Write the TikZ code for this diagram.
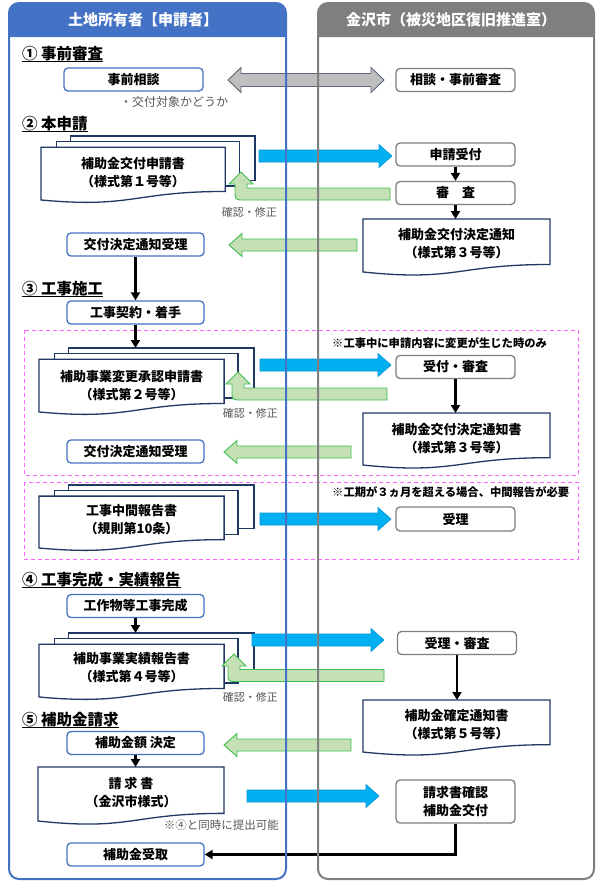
\documentclass[tikz,border=0pt]{standalone}
\usepackage{fontspec}
\setmainfont{Noto Sans CJK JP}
\usetikzlibrary{arrows.meta,calc}
\definecolor{lblue}{HTML}{4472C4}
\definecolor{rgray}{HTML}{7F7F7F}
\definecolor{navy}{HTML}{203864}
\definecolor{cyanfill}{HTML}{00B0F0}
\definecolor{cyandraw}{HTML}{0098D8}
\definecolor{gfill}{HTML}{C5E0B4}
\definecolor{gdraw}{HTML}{3CBE50}
\definecolor{grfill}{HTML}{BFBFBF}
\definecolor{grdraw}{HTML}{5B6778}
\definecolor{pinkc}{HTML}{FF66FF}
\definecolor{notegray}{HTML}{595959}
\tikzset{
 boxtxt/.style={font=\fontsize{13}{18}\selectfont\bfseries},
 lbox/.style={boxtxt, draw=lblue, line width=1.3pt, rounded corners=4pt, fill=white, minimum height=23pt, minimum width=137pt, inner sep=0pt},
 rbox/.style={boxtxt, draw=rgray, line width=1.3pt, rounded corners=4pt, fill=white, minimum width=119pt, minimum height=23pt, inner sep=0pt},
 doctxt/.style={boxtxt, align=center, inner sep=0pt},
 docln/.style={draw=navy, line width=1.3pt, fill=white},
 headtxt/.style={font=\fontsize{15.5}{18}\selectfont\bfseries, anchor=base west, inner sep=0pt},
 smalltxt/.style={font=\fontsize{11}{14}\selectfont, text=notegray, inner sep=0pt},
 notetxt/.style={font=\fontsize{11.3}{14}\selectfont\bfseries, inner sep=0pt, anchor=west},
 blk/.style={line width=2.3pt, -{Triangle[width=9pt,length=8pt]}},
 bluearr/.style={fill=cyanfill, draw=cyandraw, line width=0.6pt},
 grnarr/.style={fill=gfill, draw=gdraw, line width=0.9pt},
 grayarr/.style={fill=grfill, draw=grdraw, line width=0.9pt},
 pinkbox/.style={draw=pinkc, line width=0.9pt, dash pattern=on 4pt off 3pt},
 ulinestyle/.style={line width=0.9pt},
}
% right-pointing block arrow: style, tail x, tip x, y
\newcommand\arrR[4]{\filldraw[#1] (#2,#4-6) -- (#3-13,#4-6) -- (#3-13,#4-11.5) -- (#3,#4) -- (#3-13,#4+11.5) -- (#3-13,#4+6) -- (#2,#4+6) -- cycle;}
% left-pointing block arrow: style, tip x, tail x, y
\newcommand\arrL[4]{\filldraw[#1] (#3,#4-6) -- (#2+13,#4-6) -- (#2+13,#4-11.5) -- (#2,#4) -- (#2+13,#4+11.5) -- (#2+13,#4+6) -- (#3,#4+6) -- cycle;}
% bent arrow: style, right x, body y, shaft x, tip y
\newcommand\arrLup[5]{\filldraw[#1] (#2,#3+6) -- (#4+3,#3+6) .. controls (#4-6,#3+6) .. (#4-6,#3-3) -- (#4-6,#5+12) -- (#4-12,#5+12) -- (#4,#5) -- (#4+12,#5+12) -- (#4+6,#5+12) -- (#4+6,#3-6) -- (#2,#3-6) -- cycle;}
% single document: x1 y1 w h
\newcommand\sdoc[4]{\filldraw[docln] (#1,#2) -- (#1+#3,#2) -- (#1+#3,#2+0.802*#4) .. controls (#1+0.5*#3,#2+0.802*#4) and (#1+0.5*#3,#2+1.1075*#4) .. (#1,#2+0.934*#4) -- cycle;}
% multi document: x1 y1 w h
\newcommand\mdoc[4]{%
 \filldraw[docln] (#1+0.1376*#3,#2) rectangle (#1+#3,#2+0.666*#4);
 \filldraw[docln] (#1+0.071*#3,#2+0.084*#4) rectangle (#1+0.926*#3,#2+0.752*#4);
 \filldraw[docln] (#1,#2+0.17*#4) -- (#1+0.861*#3,#2+0.17*#4) -- (#1+0.861*#3,#2+0.834*#4) .. controls (#1+0.43*#3,#2+0.834*#4) and (#1+0.43*#3,#2+1.09*#4) .. (#1,#2+0.962*#4) -- cycle;}
\begin{document}
\begin{tikzpicture}[x=1pt,y=-1pt]
\useasboundingbox (0,0) rectangle (597,884);
\fill[white] (0,0) rectangle (597,884);
% header bands
\fill[lblue] (9,37) [rounded corners=10pt] -- (9,3) -- (286,3) [sharp corners] -- (286,37) -- cycle;
\fill[rgray] (318,37) [rounded corners=10pt] -- (318,3) -- (594,3) [sharp corners] -- (594,37) -- cycle;
\node[font=\fontsize{15}{18}\selectfont\bfseries, text=white] (hl) at (143,20) {土地所有者【申請者】};
\node[font=\fontsize{15}{18}\selectfont\bfseries, text=white] (hr) at (451,20) {金沢市（被災地区復旧推進室）};
% pink dashed frames
\draw[pinkbox] (24,330) rectangle (578,475);
\draw[pinkbox] (24,482) rectangle (578,559);
% headings
\node[headtxt] (h1) at (22,59) {① 事前審査};
\node[headtxt] (h2) at (22,129) {② 本申請};
\node[headtxt] (h3) at (22,294) {③ 工事施工};
\node[headtxt] (h4) at (22,585) {④ 工事完成・実績報告};
\node[headtxt] (h5) at (22,725) {⑤ 補助金請求};
\foreach \h in {h1,h2,h3,h4,h5}{\draw[ulinestyle] ($(\h.base west)+(0,2.5)$) -- ($(\h.base east)+(0,2.5)$);}
% section 1
\node[lbox, minimum width=139pt] (a1) at (133.5,79.5) {事前相談};
\node[rbox] (b1) at (455.5,80) {相談・事前審査};
\node[smalltxt, font=\fontsize{12}{14}\selectfont, anchor=west] (t1) at (120,102) {・交付対象かどうか};
\filldraw[grayarr] (228,80) -- (241,67.5) -- (241,73.5) -- (371,73.5) -- (371,67.5) -- (384,80) -- (371,92.5) -- (371,86.5) -- (241,86.5) -- (241,92.5) -- cycle;
% section 2
\mdoc{41}{136}{214}{66.5}
\node[doctxt] (d1) at (133,172.5) {補助金交付申請書\\（様式第１号等）};
\node[rbox] (b2) at (455.5,154.5) {申請受付};
\node[rbox] (b3) at (455.5,193) {審　査};
\sdoc{363}{219}{187}{56.7}
\node[doctxt] (d5) at (456.5,244) {補助金交付決定通知\\（様式第３号等）};
\coordinate (d5top) at (456.5,219);
\node[lbox] (a2) at (135.5,244.5) {交付決定通知受理};
\node[smalltxt, anchor=east] (c1) at (277,212) {確認・修正};
\arrR{bluearr}{259}{392}{156}
\arrLup{grnarr}{390}{194}{241}{172}
\arrL{grnarr}{229}{357}{245}
\draw[blk] (b2.south) -- (b3.north);
\draw[blk] (b3.south) -- (b3.south |- d5top);
% section 3
\node[lbox] (a3) at (135.5,312.5) {工事契約・着手};
\draw[blk] (a2.south) -- (a3.north);
\node[notetxt] (n1) at (332,343) {※工事中に申請内容に変更が生じた時のみ};
\mdoc{39}{348}{215}{66.5}
\coordinate (d2top) at (135.5,348);
\node[doctxt] (d2) at (131.5,385.5) {補助事業変更承認申請書\\（様式第２号等）};
\draw[blk] (a3.south) -- (a3.south |- d2top);
\node[rbox] (b4) at (455.5,367) {受付・審査};
\sdoc{363}{413}{187}{55.7}
\coordinate (d6top) at (455.5,413);
\node[doctxt] (d6) at (456.5,438.5) {補助金交付決定通知書\\（様式第３号等）};
\draw[blk] (b4.south) -- (b4.south |- d6top);
\node[smalltxt, anchor=east] (c2) at (278,413) {確認・修正};
\node[lbox] (a4) at (135.5,451.5) {交付決定通知受理};
\arrR{bluearr}{260}{391}{365}
\arrLup{grnarr}{387}{394}{238}{372}
\arrL{grnarr}{224}{351}{452}
% interim report
\node[notetxt] (n2) at (332,492) {※工期が３ヵ月を超える場合、中間報告が必要};
\mdoc{39}{485}{215}{65.5}
\node[doctxt] (d3) at (131.5,520) {工事中間報告書\\（規則第10条）};
\node[rbox, minimum height=24pt] (b5) at (455.5,519) {受理};
\arrR{bluearr}{260}{391}{519}
% section 4
\node[lbox] (a5) at (135.5,606) {工作物等工事完成};
\mdoc{39}{633}{215}{66.5}
\coordinate (d4top) at (135.5,633);
\node[doctxt] (d4) at (131.5,668) {補助事業実績報告書\\（様式第４号等）};
\draw[blk] (a5.south) -- (a5.south |- d4top);
\node[rbox] (b6) at (457,643) {受理・審査};
\sdoc{363}{700}{187}{55.7}
\coordinate (d7top) at (457,700);
\node[doctxt] (d7) at (456.5,724.5) {補助金確定通知書\\（様式第５号等）};
\draw[blk] (b6.south) -- (b6.south |- d7top);
\node[smalltxt, anchor=east] (c3) at (278,697) {確認・修正};
\arrR{bluearr}{252}{384}{640}
\arrLup{grnarr}{384}{675.5}{234}{654}
% section 5
\node[lbox] (a6) at (135.5,743) {補助金額 決定};
\arrL{grnarr}{224}{351}{745}
\sdoc{38}{767}{186}{57.8}
\coordinate (d8top) at (135.5,767);
\node[doctxt] (d8) at (131,792.5) {請 求 書\\（金沢市様式）};
\draw[blk] (a6.south) -- (a6.south |- d8top);
\node[rbox, minimum height=43pt, align=center] (b7) at (455.5,801.5) {請求書確認\\補助金交付};
\arrR{bluearr}{247}{379}{796}
\node[smalltxt, font=\fontsize{11.5}{14}\selectfont, anchor=east] (c4) at (279,825) {※④と同時に提出可能};
\node[lbox] (a7) at (135.5,854.5) {補助金受取};
\draw[blk] (b7.south) |- (a7.east);
% panel outlines
\draw[lblue, line width=2pt, rounded corners=10pt] (9,3) rectangle (286,879);
\draw[rgray, line width=2pt, rounded corners=10pt] (318,3) rectangle (594,879);
\end{tikzpicture}
\end{document}
